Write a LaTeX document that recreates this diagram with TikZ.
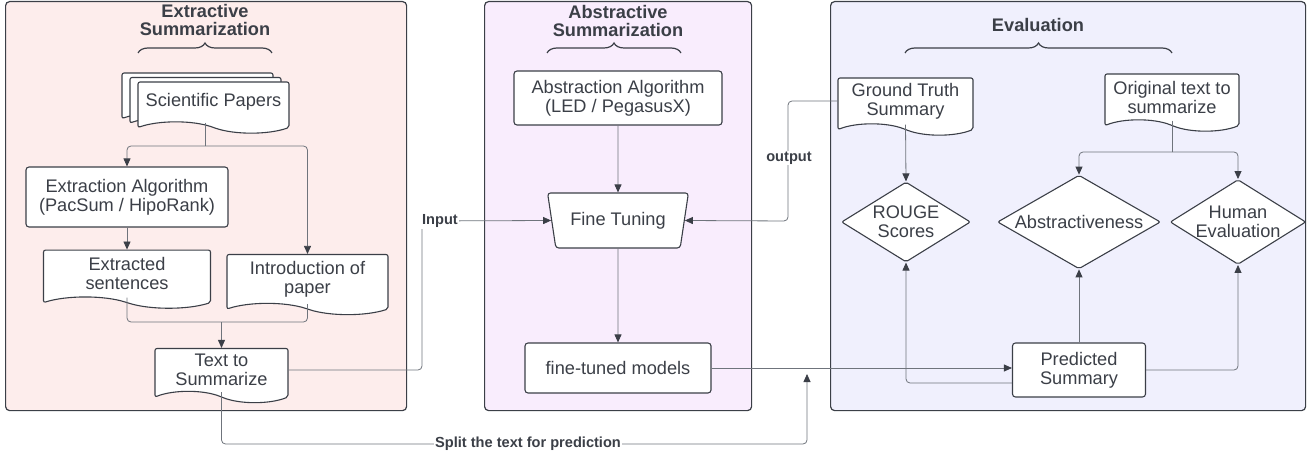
\documentclass[tikz,border=0pt]{standalone}
\usepackage{fontspec}
\setmainfont{Liberation Sans}
\usepackage{xcolor}
\usetikzlibrary{calc,positioning,arrows.meta,shapes.geometric,shapes.symbols,%
    shadows,decorations.pathreplacing}
\definecolor{panelred}{HTML}{FDEDEC}
\definecolor{panelviolet}{HTML}{F9EDFD}
\definecolor{panelblue}{HTML}{F0F0FD}
\definecolor{inkgray}{HTML}{3B3F47}
\definecolor{wiregray}{HTML}{6F747C}
\tikzset{
>={Triangle[length=8pt,width=7pt,color=inkgray]},
  panel/.style={
    rectangle,
    rounded corners=4pt,
    draw=inkgray, line width=1.2pt,
    inner sep=0pt,
    anchor=north west},
  heading/.style={font=\bfseries\fontsize{18.2}{18.5}\selectfont, align=center},
  tag/.style={font=\bfseries\fontsize{14.6}{15}\selectfont, fill=white, inner sep=1pt},
  brace/.style={decorate, decoration={brace, amplitude=10pt}, draw=inkgray, line width=1.2pt},
}

\begin{document}
\begin{tikzpicture}[x=1pt,y=-1pt]
      \tikzset{
          every node/.style={text=inkgray, font=\fontsize{18.2}{19}\selectfont},
          action/.style={rectangle, rounded corners=3pt, draw=inkgray, fill=white, line width=1.1pt, inner sep=2pt, align=center},
          document/.style={tape, tape bend top=none, tape bend bottom=out and in, tape bend height=11pt, rounded corners=2pt, draw=inkgray, fill=white, line width=1.1pt, inner sep=2pt, align=center},
          condition/.style={diamond, aspect=1.6, rounded corners=2pt, draw=inkgray, fill=white, line width=1.1pt, inner sep=0pt, align=center},
          block/.style={trapezium, trapezium left angle=106, trapezium right angle=106, trapezium stretches=true, rounded corners=3pt, draw=inkgray, fill=white, line width=1.1pt, align=center},
          myline/.style={draw=wiregray, line width=0.8pt, rounded corners=4pt},
          myarrow/.style={myline, ->},
      }
      \useasboundingbox (0,0) rectangle (1314,454);

      \node[panel, fill=panelred, minimum width=401pt, minimum height=409pt] (ExtPanel) at (5,1) {};
      \node[panel, fill=panelviolet, minimum width=267pt, minimum height=409pt] (AbsPanel) at (484,1) {};
      \node[panel, fill=panelblue, minimum width=475pt, minimum height=409pt] (EvalPanel) at (830,1) {};

      \node[heading] (ExtTitle) at (205,20) {Extractive\\Summarization};
      \node[heading] (AbsTitle) at (618,21) {Abstractive\\Summarization};
      \node[heading] (EvalTitle) at (1038,25) {Evaluation};
      \draw[brace] (138,53) -- (272,53);
      \draw[brace] (547,53) -- (681,53);
      \draw[brace] (905,53) -- (1172,53);

      \node[document, double copy shadow={shadow xshift=-8pt, shadow yshift=4.5pt, draw=inkgray, fill=white, line width=1.1pt},
            minimum width=151pt, minimum height=51pt] (SciPapers) at (213.5,102) {Scientific Papers};
      \node[action, minimum width=202pt, minimum height=60pt] (ExtAlgo) at (127,197) {Extraction Algorithm\\(PacSum / HipoRank)};
      \node[document, below=22pt of ExtAlgo, minimum width=167pt, minimum height=58pt] (ExtSent) {Extracted\\sentences};
      \node[document, minimum width=161pt, minimum height=60pt] (Intro) at (307.5,279) {Introduction of\\paper};
      \node[document, minimum width=133pt, minimum height=54pt] (TextSum) at (221.5,370) {Text to\\Summarize};

      \node[action, minimum width=208pt, minimum height=54pt] (AbsAlgo) at (618,98) {Abstraction Algorithm\\(LED / PegasusX)};
      \node[block, minimum width=141pt, minimum height=55pt] (FineTune) at (618,220.5) {Fine Tuning};
      \node[action, minimum width=186pt, minimum height=50pt] (Tuned) at (618,368) {fine-tuned models};

      \node[document, minimum width=135pt, minimum height=57pt] (GroundTruth) at (905.5,101) {Ground Truth\\Summary};
      \node[document, minimum width=134pt, minimum height=57pt] (Original) at (1172,97) {Original text to\\summarize};
      \node[condition, minimum width=129pt, minimum height=80pt] (Rouge) at (906,222) {ROUGE\\Scores};
      \node[condition, minimum width=163pt, minimum height=80pt] (Abstr) at (1079,222) {Abstractiveness};
      \node[condition, minimum width=130pt, minimum height=80pt] (Human) at (1238,222) {Human\\Evaluation};
      \node[action, minimum width=133pt, minimum height=54pt] (Predicted) at (1079,370) {Predicted\\Summary};

      \coordinate (AuxNode01) at (205,146);
      \coordinate (AuxNode02) at (221.5,322);
      \coordinate (AuxNode03) at (422,221);
      \coordinate (AuxNode04) at (788,221);
      \coordinate (AuxNode05) at (807,444);
      \coordinate (AuxNode06) at (807,374);
      \coordinate (AuxNode07) at (1172,152);

      \path[myline] (AuxNode01 |- SciPapers.south) -- (AuxNode01);
      \path[myarrow] (AuxNode01) -| (ExtAlgo.north);
      \path[myarrow] (AuxNode01) -| (Intro.north);
      \path[myarrow] (ExtAlgo.south) -- (ExtSent.north);
      \path[myline] (ExtSent.south) |- (AuxNode02);
      \path[myline] (Intro.south) |- (AuxNode02);
      \path[myarrow] (AuxNode02) -- (TextSum.north);
      \path[myarrow] (TextSum.east) -| (AuxNode03) -- (FineTune.west);
      \path[myarrow] (TextSum.south) |- (AuxNode05) -- (AuxNode06);
      \path[myarrow] (AbsAlgo.south) -- (FineTune.north);
      \path[myarrow] (FineTune.south) -- (Tuned.north);
      \path[myarrow] (Tuned.east) -- (Tuned.east -| Predicted.west);
      \path[myarrow] (GroundTruth.west) -| (AuxNode04) -- (FineTune.east);
      \path[myarrow] (GroundTruth.south) -- (Rouge.north);
      \path[myline] (Original.south) -- (AuxNode07);
      \path[myarrow] (AuxNode07) -| (Abstr.north);
      \path[myarrow] (AuxNode07) -| (Human.north);
      \path[myarrow] ($(Predicted.west)+(0,13)$) -| (Rouge.south);
      \path[myarrow] (Predicted.north) -- (Abstr.south);
      \path[myarrow] (Predicted.east) -| (Human.south);

      \node[tag] (InputTag) at (440,221) {Input};
      \node[tag] (OutputTag) at (789,158) {output};
      \node[tag] (SplitTag) at (528,444) {Split the text for prediction};

      \end{tikzpicture}
\end{document}
